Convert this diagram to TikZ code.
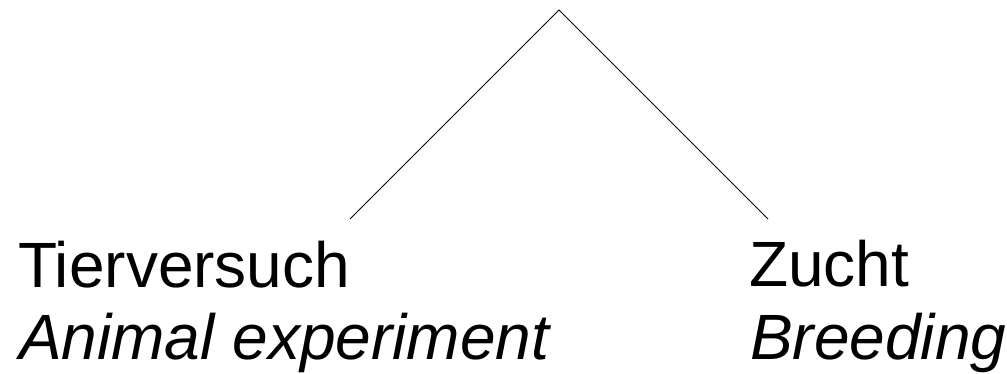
\documentclass[tikz,border=0pt]{standalone}
\usepackage{fontspec}
\setmainfont{Liberation Sans}
\usetikzlibrary{positioning}

\begin{document}
\begin{tikzpicture}[x=1pt, y=1pt,
  word/.style  ={anchor=base west, inner sep=0pt, font=\fontsize{64}{70}\selectfont},
  gloss/.style ={anchor=base west, inner sep=0pt, font=\fontsize{64}{70}\selectfont\itshape},
  branch/.style={line width=1pt, black},
]
\useasboundingbox (0,0) rectangle (1007,374);

% ---------------- the fork ----------------
\coordinate (top)   at (559,364);
\coordinate (lleaf) at (350,155);
\coordinate (rleaf) at (768,155);

% ---------------- the two leaves ----------------
\node[word]  (tier)  at (18,86) {Tierversuch};
\node[gloss] (anim)  at (19,14) {Animal experiment};
\node[word]  (zucht) at (749,87) {Zucht};
\node[gloss] (breed) at (750,14) {Breeding};

\draw[branch] (lleaf) -- (top) -- (rleaf);

\end{tikzpicture}
\end{document}
